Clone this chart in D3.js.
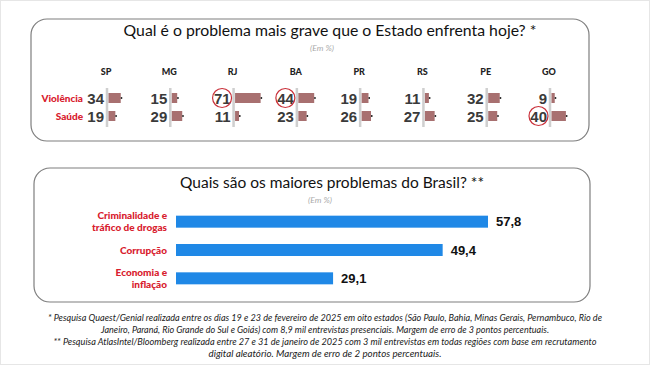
<!DOCTYPE html>
<html><head><meta charset="utf-8">
<script src="https://cdn.jsdelivr.net/npm/d3@7"></script>
<style>html,body{margin:0;padding:0;background:#fff;}svg{display:block;}</style>
</head><body>
<script>
// ---- data ----
const states = ["SP","MG","RJ","BA","PR","RS","PE","GO"];
const rowLabels = ["Violência","Saúde"];
const violencia = [34,15,71,44,19,11,32,9];
const saude = [19,29,11,23,26,27,25,40];
const highlighted = [["RJ","Violência"],["BA","Violência"],["GO","Saúde"]];
const brCategories = [["Criminalidade e","tráfico de drogas"],["Corrupção"],["Economia e","inflação"]];
const brValues = [57.8,49.4,29.1];
const title1 = "Qual é o problema mais grave que o Estado enfrenta hoje? *";
const title2 = "Quais são os maiores problemas do Brasil? **";
const subtitle = "(Em %)";
const notes = [
 "* Pesquisa Quaest/Genial realizada entre os dias 19 e 23 de fevereiro de 2025 em oito estados (São Paulo, Bahia, Minas Gerais, Pernambuco, Rio de",
 "Janeiro, Paraná, Rio Grande do Sul e Goiás) com 8,9 mil entrevistas presenciais. Margem de erro de 3 pontos percentuais.",
 "** Pesquisa AtlasIntel/Bloomberg realizada entre 27 e 31 de janeiro de 2025 com 3 mil entrevistas em todas regiões com base em recrutamento",
 "digital aleatório. Margem de erro de 2 pontos percentuais."
];
const noteWidths = [554, 448, 543, 233];

const W = 650, H = 365;
const svg = d3.select("body").append("svg").attr("width", W).attr("height", H);
svg.append("rect").attr("x",0.5).attr("y",0.5).attr("width",W-1).attr("height",H-1)
  .attr("fill","#fff").attr("stroke","#e6e6e6");

const titleFont = "Lato, 'Open Sans', sans-serif";
const numFont = "'Liberation Sans', Arial, sans-serif";
const red = "#d8202e";

// panels
svg.append("rect").attr("x",31).attr("y",19).attr("width",558).attr("height",122)
  .attr("rx",16).attr("fill","#fff").attr("stroke","#7f7f7f").attr("stroke-width",1.2);
svg.append("rect").attr("x",34).attr("y",168).attr("width",556).attr("height",134)
  .attr("rx",16).attr("fill","#fff").attr("stroke","#7f7f7f").attr("stroke-width",1.2);

// ---- top panel ----
svg.append("text").attr("x",330).attr("y",36).attr("text-anchor","middle")
  .attr("font-family",titleFont).attr("font-size",15.8).attr("fill","#111").text(title1);
svg.append("text").attr("x",322).attr("y",51).attr("text-anchor","middle")
  .attr("font-family",titleFont).attr("font-style","italic").attr("font-size",8.5).attr("fill","#aaa").text(subtitle);

const xState = d3.scalePoint().domain(states).range([107,550]);
const yRow = d3.scalePoint().domain(rowLabels).range([98,116]);
const len = d3.scaleLinear().domain([0,100]).range([0,36]);

svg.append("g").selectAll("text").data(states).join("text")
  .attr("x",d=>xState(d)-1).attr("y",75).attr("text-anchor","middle")
  .attr("font-family",titleFont).attr("font-weight",900).attr("font-size",9).attr("fill","#222").text(d=>d);

svg.append("g").selectAll("text").data(rowLabels).join("text")
  .attr("x",83).attr("y",d=>yRow(d)+3.5).attr("text-anchor","end")
  .attr("font-family",titleFont).attr("font-weight",900).attr("font-size",10).attr("fill",red).text(d=>d);

const cells = [];
states.forEach((s,i)=>{
  cells.push({s, r:"Violência", v:violencia[i]});
  cells.push({s, r:"Saúde", v:saude[i]});
});

// axis lines
svg.append("g").selectAll("line").data(states).join("line")
  .attr("x1",d=>xState(d)).attr("x2",d=>xState(d)).attr("y1",88).attr("y2",127)
  .attr("stroke","#cfcfcf").attr("stroke-width",2.5);

const gc = svg.append("g");
gc.selectAll("rect.bar").data(cells).join("rect").attr("class","bar")
  .attr("x",d=>xState(d.s)+1.5).attr("y",d=>yRow(d.r)-5)
  .attr("width",d=>len(d.v)).attr("height",10).attr("fill","#a87070");
gc.selectAll("rect.tip").data(cells).join("rect").attr("class","tip")
  .attr("x",d=>xState(d.s)+1.5+len(d.v)).attr("y",d=>yRow(d.r)-1)
  .attr("width",1.5).attr("height",2).attr("fill","#333");
gc.selectAll("text").data(cells).join("text")
  .attr("x",d=>xState(d.s)-3).attr("y",d=>yRow(d.r)+5.5).attr("text-anchor","end")
  .attr("font-family",numFont).attr("font-weight",700).attr("font-size",15).attr("fill","#3a3a3a").text(d=>d.v);
gc.selectAll("circle").data(cells.filter(d=>highlighted.some(h=>h[0]===d.s&&h[1]===d.r))).join("circle")
  .attr("cx",d=>xState(d.s)-11.5).attr("cy",d=>yRow(d.r)).attr("r",9.5)
  .attr("fill","none").attr("stroke","#c9303a").attr("stroke-width",1.2);

// ---- bottom panel ----
svg.append("text").attr("x",332).attr("y",188).attr("text-anchor","middle")
  .attr("font-family",titleFont).attr("font-size",15.5).attr("fill","#111").text(title2);
svg.append("text").attr("x",320).attr("y",203).attr("text-anchor","middle")
  .attr("font-family",titleFont).attr("font-style","italic").attr("font-size",8.5).attr("fill","#aaa").text(subtitle);

const catKeys = brCategories.map(c=>c.join(" "));
const yB = d3.scaleBand().domain(catKeys).range([207.5,292.5]).padding(0);
const xB = d3.scaleLinear().domain([0,57.8]).range([176,488]);

const gb = svg.append("g");
gb.selectAll("rect").data(brValues).join("rect")
  .attr("x",xB(0)).attr("y",(d,i)=>yB(catKeys[i])+yB.bandwidth()/2-6)
  .attr("width",d=>xB(d)-xB(0)).attr("height",12).attr("fill","#1f88e6");
gb.selectAll("text.val").data(brValues).join("text").attr("class","val")
  .attr("x",d=>xB(d)+8).attr("y",(d,i)=>yB(catKeys[i])+yB.bandwidth()/2+4.5)
  .attr("font-family",numFont).attr("font-weight",700).attr("font-size",13).attr("fill","#111")
  .text(d=>d3.format(".1f")(d).replace(".",","));
brCategories.forEach((lines,i)=>{
  const cy = yB(catKeys[i])+yB.bandwidth()/2;
  const t = svg.append("text").attr("text-anchor","end")
    .attr("font-family",titleFont).attr("font-weight",900).attr("font-size",10).attr("fill",red);
  lines.forEach((l,j)=>{
    t.append("tspan").attr("x",167).attr("y",cy+3.5+(j-(lines.length-1)/2)*11.5).text(l);
  });
});

// ---- notes ----
const noteY = [318,330,342,354];
svg.append("g").selectAll("text").data(notes).join("text")
  .attr("x",325).attr("y",(d,i)=>noteY[i]+3).attr("text-anchor","middle")
  .attr("font-family",titleFont).attr("font-style","italic").attr("font-size",9).attr("fill","#222")
  .attr("textLength",(d,i)=>noteWidths[i]).attr("lengthAdjust","spacingAndGlyphs")
  .text(d=>d);
</script>
</body></html>
